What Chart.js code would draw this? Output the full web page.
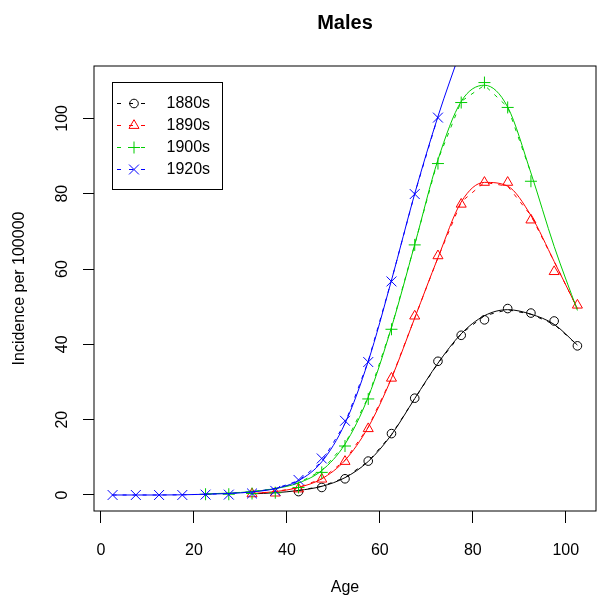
<!DOCTYPE html>
<html>
<head>
<meta charset="utf-8">
<script src="https://cdn.jsdelivr.net/npm/chart.js@4"></script>
<style>
  html, body { margin: 0; padding: 0; background: #ffffff; }
</style>
</head>
<body>
<canvas id="myChart" width="604" height="597"></canvas>
<script>
// age groups (mid points)
const ages = [2.5, 7.5, 12.5, 17.5, 22.5, 27.5, 32.5, 37.5, 42.5, 47.5, 52.5,
              57.5, 62.5, 67.5, 72.5, 77.5, 82.5, 87.5, 92.5, 97.5, 102.5];

const seriesLabels = ['1880s', '1890s', '1900s', '1920s'];

// observed rates per 100000
const obs1880 = [null, null, null, null, null, null, null, null, 0.9, 2.0, 4.3,
                 9.0, 16.3, 25.7, 35.5, 42.4, 46.5, 49.5, 48.3, 46.2, 39.6];
const obs1890 = [null, null, null, null, null, null, 0.3, 0.5, 1.6, 4.2, 8.9,
                 17.6, 31.0, 47.5, 63.5, 77.2, 83.0, 83.0, 73.0, 59.3, 50.4];
const obs1900 = [null, null, null, null, 0.2, 0.2, 0.4, 0.6, 2.0, 6.0, 13.0,
                 25.5, 44.0, 66.4, 88.0, 104.2, 109.5, 102.9, 83.3, null, null];
const obs1920 = [0, 0, 0, 0, 0.1, 0.1, 0.4, 1.1, 4.0, 9.7, 19.7,
                 35.3, 56.7, 79.9, 100.2, null, null, null, null, null, null];

// fitted curves
const fit1880 = [null, null, null, null, null, null, 0.3, 0.6, 1.2, 2.3, 4.6,
                 8.9, 16.0, 25.6, 35.0, 42.8, 47.6, 49.2, 48.0, 45.3, 39.8];
const fit1890 = [null, null, null, null, null, null, 0.4, 0.9, 2.0, 4.3, 9.2,
                 18.0, 31.0, 47.0, 63.0, 77.8, 83.0, 82.0, 74.2, 62.0, 49.5];
const fit1900 = [null, null, null, null, 0.3, 0.5, 0.9, 1.7, 3.2, 6.5, 13.5,
                 26.0, 44.5, 66.5, 89.0, 104.5, 108.8, 103.0, 85.5, 66.0, 49.0];
const fit1920 = [0, 0, 0, 0.05, 0.2, 0.4, 0.8, 1.7, 3.8, 8.8, 19.0,
                 35.5, 57.0, 80.0, 100.5, 118.5, null, null, null, null, null];

const xTicks = [0, 20, 40, 60, 80, 100];
const yTicks = [0, 20, 40, 60, 80, 100];

const observed = [obs1880, obs1890, obs1900, obs1920];
const fitted = [fit1880, fit1890, fit1900, fit1920];
const colors = ['#000000', '#FF0000', '#00CD00', '#0000FF'];
const symbols = ['circle', 'triangle', 'cross', 'crossRot'];
const symbolSize = [4.3, 5.8, 6, 7];

const toPoints = (vals) => ages.map((a, i) => ({x: a, y: vals[i]})).filter(p => p.y !== null);

const datasets = [];
seriesLabels.forEach((label, s) => {
    // observed points
    datasets.push({
        label: label,
        data: toPoints(observed[s]),
        showLine: false,
        pointStyle: symbols[s],
        pointRadius: symbolSize[s],
        pointBorderWidth: 1,
        pointBorderColor: colors[s],
        pointBackgroundColor: 'rgba(0,0,0,0)',
        order: 4 - s
    });
    // smooth fitted curve
    datasets.push({
        label: label + ' fit',
        data: toPoints(fitted[s]),
        borderColor: colors[s],
        borderWidth: 1,
        pointRadius: 0,
        cubicInterpolationMode: 'monotone',
        fill: false,
        order: 4 - s
    });
    // dashed fitted values over observed ages
    const dashVals = fitted[s].map((v, i) => observed[s][i] === null ? null : v);
    datasets.push({
        label: label + ' dashed',
        data: toPoints(dashVals),
        borderColor: colors[s],
        borderWidth: 1,
        borderDash: [4, 6],
        pointRadius: 0,
        tension: 0,
        fill: false,
        order: 4 - s
    });
});

function drawSymbol(ctx, style, r, x, y) {
    ctx.beginPath();
    if (style === 'circle') {
        ctx.arc(x, y, r, 0, Math.PI * 2);
    } else if (style === 'triangle') {
        ctx.moveTo(x, y - r);
        ctx.lineTo(x + r * Math.sin(Math.PI / 3), y + r / 2);
        ctx.lineTo(x - r * Math.sin(Math.PI / 3), y + r / 2);
        ctx.closePath();
    } else if (style === 'cross') {
        ctx.moveTo(x - r, y); ctx.lineTo(x + r, y);
        ctx.moveTo(x, y - r); ctx.lineTo(x, y + r);
    } else {
        const d = r * Math.SQRT1_2;
        ctx.moveTo(x - d, y - d); ctx.lineTo(x + d, y + d);
        ctx.moveTo(x - d, y + d); ctx.lineTo(x + d, y - d);
    }
    ctx.stroke();
}

// plot frame + legend box like base R
const frameAndLegend = {
    id: 'frameAndLegend',
    afterDraw(chart) {
        const {ctx, chartArea: a} = chart;
        ctx.save();
        ctx.strokeStyle = '#000';
        ctx.lineWidth = 1;
        ctx.strokeRect(a.left, a.top, a.right - a.left, a.bottom - a.top);

        // legend
        ctx.strokeRect(112.5, 82.5, 110, 107);
        ctx.font = '16px "Liberation Sans", Arial, sans-serif';
        ctx.textBaseline = 'middle';
        ctx.textAlign = 'left';
        seriesLabels.forEach((label, s) => {
            const y = 103.5 + s * 22;
            ctx.strokeStyle = colors[s];
            ctx.setLineDash([4, 8]);
            ctx.beginPath();
            ctx.moveTo(117, y);
            ctx.lineTo(151, y);
            ctx.stroke();
            ctx.setLineDash([]);
            drawSymbol(ctx, symbols[s], symbolSize[s], 134, y);
            ctx.fillStyle = '#000';
            ctx.fillText(label, 166.5, y);
        });
        ctx.restore();
    }
};

Chart.defaults.font.family = '"Liberation Sans", Arial, sans-serif';
Chart.defaults.color = '#000';

const ctx = document.getElementById('myChart').getContext('2d');
const myChart = new Chart(ctx, {
    type: 'line',
    data: {datasets: datasets},
    options: {
        responsive: false,
        animation: false,
        layout: {padding: {left: 0, right: 1, top: 0, bottom: 0}},
        plugins: {
            legend: {display: false},
            tooltip: {enabled: false},
            title: {
                display: true,
                text: 'Males',
                fullSize: false,
                color: '#000',
                font: {size: 20, weight: 'bold'},
                padding: {top: 11, bottom: 31}
            }
        },
        scales: {
            x: {
                type: 'linear',
                min: -1.5,
                max: 106.5,
                afterBuildTicks: (scale) => { scale.ticks = xTicks.map(v => ({value: v})); },
                afterFit: (scale) => { scale.height = 86; },
                border: {display: false},
                grid: {
                    drawOnChartArea: false,
                    drawTicks: true,
                    tickLength: 12,
                    tickColor: '#000',
                    tickWidth: 1
                },
                ticks: {
                    color: '#000',
                    font: {size: 16},
                    padding: 18,
                    maxRotation: 0,
                    autoSkip: false
                },
                title: {
                    display: true,
                    text: 'Age',
                    color: '#000',
                    font: {size: 16},
                    padding: {top: 0, bottom: 0}
                }
            },
            y: {
                type: 'linear',
                min: -4.25,
                max: 113.9,
                afterBuildTicks: (scale) => { scale.ticks = yTicks.map(v => ({value: v})); },
                afterFit: (scale) => { scale.width = 94; },
                border: {display: false},
                grid: {
                    drawOnChartArea: false,
                    drawTicks: true,
                    tickLength: 11,
                    tickColor: '#000',
                    tickWidth: 1
                },
                ticks: {
                    color: '#000',
                    font: {size: 16},
                    minRotation: 90,
                    maxRotation: 90,
                    crossAlign: 'center',
                    padding: 7,
                    autoSkip: false
                },
                title: {
                    display: true,
                    text: 'Incidence per 100000',
                    color: '#000',
                    font: {size: 16},
                    padding: {top: 10, bottom: 0}
                }
            }
        }
    },
    plugins: [frameAndLegend]
});
</script>
</body>
</html>
